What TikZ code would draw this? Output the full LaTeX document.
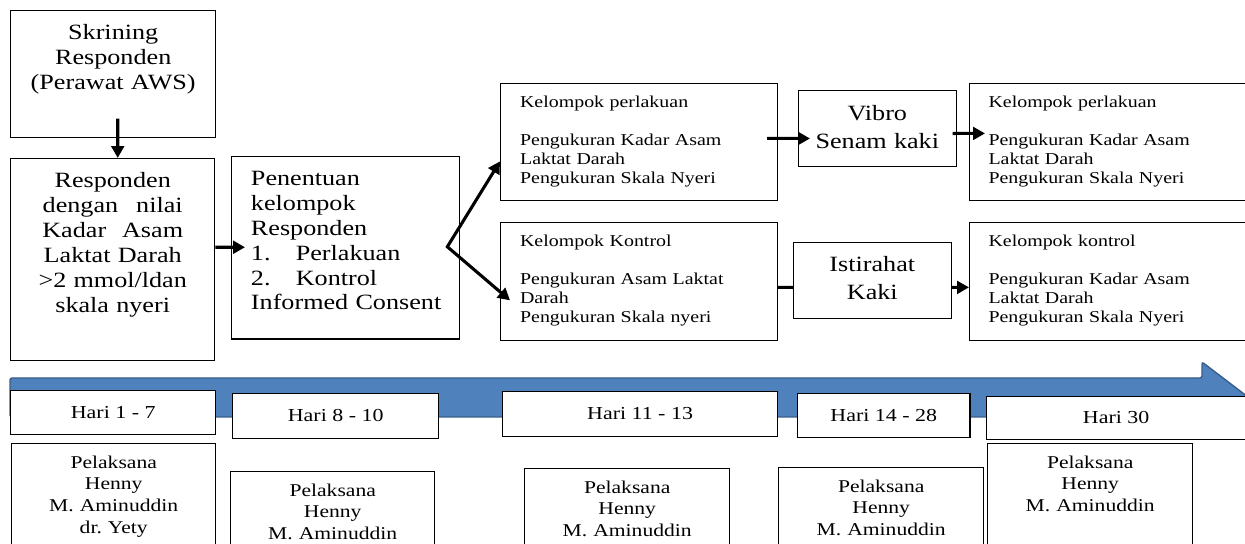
\documentclass[tikz,border=0pt]{standalone}
\usepackage{fontspec}
\usetikzlibrary{arrows.meta,calc}
\newfontfamily\wideserif{Liberation Serif}[FakeStretch=1.2]
\newcommand{\bigtxt}{\wideserif\fontsize{15.5}{17.7}\selectfont}
\newcommand{\midtxt}{\wideserif\fontsize{15.5}{19.8}\selectfont}
\newcommand{\smalltxt}{\wideserif\fontsize{11.8}{13.6}\selectfont}
\newcommand{\haritxt}{\wideserif\fontsize{13}{15}\selectfont}
\newcommand{\orgtxt}{\wideserif\fontsize{12.8}{15.6}\selectfont}
\definecolor{bandblue}{RGB}{79,129,189}
\definecolor{bandedge}{RGB}{56,93,138}

\begin{document}
\begin{tikzpicture}[x=0.025cm, y=-0.025cm,
  box/.style={draw, line width=0.8pt, fill=white, inner sep=0pt, anchor=north west},
  bigbox/.style={box, font=\bigtxt, align=center},
  midbox/.style={box, font=\midtxt, align=center},
  smallbox/.style={box, font=\smalltxt, align=left},
  harinode/.style={box, font=\haritxt, minimum height=31.5pt},
  orgnode/.style={box, font=\orgtxt, align=center, text height=17.4pt},
  lpad/.style={execute at begin node={\leftskip=#1\relax}},
  arr/.style={-{Triangle[length=8.5pt,width=9pt]}, line width=2.2pt},
  ]
  \path[use as bounding box] (0,0) rectangle (1245,544);
  \clip (0,0) rectangle (1245,544);

  % time line
  \filldraw[fill=bandblue, draw=bandedge, line width=1pt, rounded corners=1.5pt]
    (10,378) -- (1202,378) -- (1202,362) -- (1248,397) -- (1202,432) -- (1202,417) -- (10,417) -- cycle;

  % top row
  \node[bigbox, text width=146pt, text height=20.9pt, text depth=69.1pt] (skrining) at (10,10)
    {Skrining\\Responden\\(Perawat AWS)};
  \node[bigbox, text width=145.3pt, text height=20.9pt, text depth=123pt] (responden) at (10,158)
    {Responden\\dengan\hspace{12.8pt}nilai\\Kadar\hspace{11.3pt}Asam\\Laktat Darah\\>2 mmol/ldan\\skala nyeri};
  \node[bigbox, align=left, lpad=13.8pt, text width=162.3pt, text height=20.6pt, text depth=109.1pt] (penentuan) at (231,156)
    {Penentuan\\kelompok\\Responden\\\makebox[31.9pt][l]{1.}Perlakuan\\\makebox[31.9pt][l]{2.}Kontrol\\Informed Consent};

  \node[smallbox, lpad=13.9pt, text width=197pt, text height=16.7pt, text depth=66.3pt] (perlakuan) at (500,83)
    {Kelompok perlakuan\\[13.6pt]Pengukuran Kadar Asam\\Laktat Darah\\Pengukuran Skala Nyeri};
  \node[smallbox, lpad=13.9pt, text width=197pt, text height=16.8pt, text depth=66.8pt] (kontrol) at (500,222)
    {Kelompok Kontrol\\[13.6pt]Pengukuran Asam Laktat\\Darah\\Pengukuran Skala nyeri};
  \node[midbox, text width=112pt, text height=21.3pt, text depth=32.6pt] (vibro) at (798,90)
    {Vibro\\Senam kaki};
  \node[midbox, text width=112pt, text height=20.6pt, text depth=33.3pt] (istirahat) at (793,242)
    {Istirahat\\Kaki};
  \node[smallbox, lpad=13.5pt, text width=198.4pt, text height=16.7pt, text depth=66.3pt] (hasil1) at (969,83)
    {Kelompok perlakuan\\[13.6pt]Pengukuran Kadar Asam\\Laktat Darah\\Pengukuran Skala Nyeri};
  \node[smallbox, lpad=13.5pt, text width=198.4pt, text height=16.8pt, text depth=66.8pt] (hasil2) at (969,222)
    {Kelompok kontrol\\[13.6pt]Pengukuran Kadar Asam\\Laktat Darah\\Pengukuran Skala Nyeri};

  % days
  \node[harinode, minimum width=146pt, minimum height=31.2pt] (hari1) at (10,390) {Hari 1 - 7};
  \node[harinode, minimum width=146.7pt, minimum height=31.9pt] (hari2) at (232,393) {Hari 8 - 10};
  \node[harinode, minimum width=195.6pt, minimum height=31.9pt] (hari3) at (502,391) {Hari 11 - 13};
  \node[harinode, minimum width=122.6pt, minimum height=31.2pt] (hari4) at (797,393) {Hari 14 - 28};
  \node[harinode, minimum width=184.3pt, minimum height=30.5pt] (hari5) at (986,396) {Hari 30};

  % pelaksana
  \node[orgnode, text width=145.3pt, text depth=65.6pt] (org1) at (11,443) {Pelaksana\\Henny\\M. Aminuddin\\dr.\ Yety};
  \node[orgnode, text width=145.3pt, text depth=45.7pt] (org2) at (230,471) {Pelaksana\\Henny\\M. Aminuddin};
  \node[orgnode, text width=146pt, text depth=47.8pt] (org3) at (524,468) {Pelaksana\\Henny\\M. Aminuddin};
  \node[orgnode, text width=146pt, text depth=48.5pt] (org4) at (778,467) {Pelaksana\\Henny\\M. Aminuddin};
  \node[orgnode, text width=146pt, text depth=65.6pt] (org5) at (987,443) {Pelaksana\\Henny\\M. Aminuddin};

  % connectors
  \coordinate (fork) at ($(penentuan.east)+(-13,-1)$);
  \draw[arr] ($(skrining.south)+(4.5,-19)$) -- ($(responden.north)+(5,0)$);
  \draw[arr] ($(responden.east)+(0,-12.5)$) -- ($(penentuan.west)+(14,-0.5)$);
  \draw[arr, {Triangle[length=8.5pt,width=9pt]}-{Triangle[length=8.5pt,width=9pt]}]
    ($(perlakuan.west)+(0,19.5)$) -- (fork) -- ($(kontrol.west)+(10,19)$);
  \draw[arr] ($(perlakuan.east)+(-11,-3.5)$) -- ($(vibro.west)+(12,10)$);
  \draw[arr] ($(vibro.east)+(-4,5)$) -- ($(hasil1.west)+(16,-8.5)$);
  \draw[line width=2.2pt] ($(kontrol.east)+(0,6)$) -- ($(istirahat.west)+(0,7)$);
  \draw[arr] ($(istirahat.east)+(0,7)$) -- ($(hasil2.west)+(0,6)$);
\end{tikzpicture}
\end{document}
